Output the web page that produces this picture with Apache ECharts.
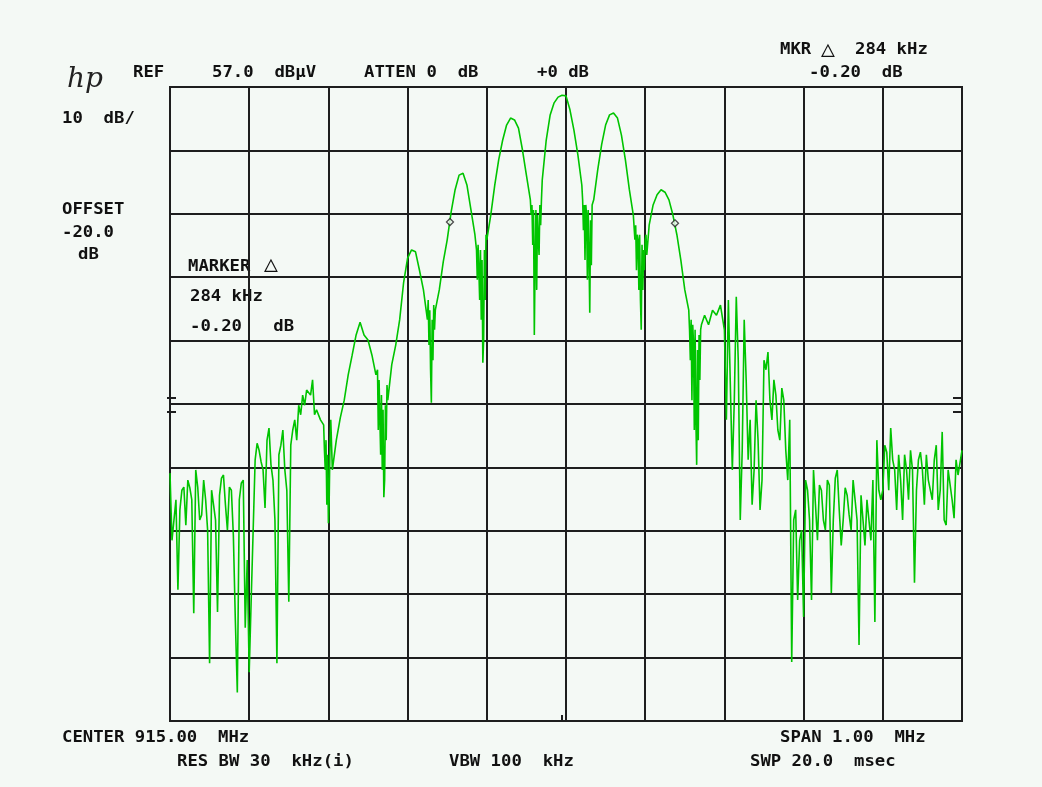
<!DOCTYPE html>
<html>
<head>
<meta charset="utf-8">
<script src="https://cdn.jsdelivr.net/npm/echarts@6/dist/echarts.min.js"></script>
<style>
html,body{margin:0;padding:0;background:#f4f9f5;}
#chart{width:1042px;height:787px;}
</style>
</head>
<body>
<div id="chart"></div>
<script>
// Instrument settings
const REF_LEVEL = 57.0;       // dBµV, top of graticule
const DB_PER_DIV = 10;
const CENTER_MHZ = 915.00;
const SPAN_KHZ = 1000;
const START_KHZ = -500;       // offset from centre
const STEP_KHZ = 5;           // sweep point spacing of the main trace samples

// Trace levels in dBµV, one per 5 kHz from -500 kHz to +500 kHz
const levels = [
  -3.9,-14.5,-22.3,-6.6,-12.1,-6.2,-26.0,-6.1,-10.5,-8.1,
  -33.9,-8.9,-25.8,-4.7,-8.9,-6.1,-13.7,-38.5,-5.5,-28.3,
  -35.3,-12.9,0.8,-2.1,-9.4,3.2,-5.0,-33.9,0.5,-3.4,
  -24.2,2.9,1.3,5.3,6.8,9.5,10.8,6.1,4.5,-0.3,
  -11.8,-3.4,1.3,4.8,7.6,11.6,14.7,17.9,19.9,17.9,
  17.1,14.7,11.6,4.5,-7.7,7.6,13.2,16.3,20.3,26.2,
  30.0,31.3,31.0,28.1,25.0,20.3,7.2,21.8,25.0,29.4,
  32.9,37.3,40.8,43.1,43.4,41.5,37.6,33.7,28.1,13.5,
  32.9,36.8,41.5,45.5,48.6,51.0,52.1,51.8,50.5,47.1,
  43.1,39.2,17.9,32.9,42.3,48.6,52.6,54.5,55.4,55.7,
  55.6,53.4,50.2,46.3,41.5,38.4,21.4,39.2,43.9,47.9,
  51.0,52.6,52.9,52.1,49.4,45.5,40.8,36.8,33.7,18.7,
  32.9,35.2,38.4,40.0,40.8,40.4,39.2,36.8,33.7,29.7,
  25.0,21.8,19.5,-2.6,18.7,21.0,19.5,21.8,21.0,22.6,
  18.7,23.4,-3.4,23.9,-11.3,20.3,-1.8,-8.9,7.6,-9.7,
  13.9,15.2,4.5,8.4,1.3,7.6,-5.0,-33.7,-9.7,-14.5,
  -26.6,-6.6,-23.9,-8.9,-5.8,-11.3,-5.0,-22.8,-4.7,-9.7,
  -11.3,-7.4,-12.9,-8.1,-31.0,-11.3,-8.1,-14.5,-27.4,-6.6,
  -6.6,-0.6,3.2,-3.4,-1.0,-11.3,-3.4,-0.3,-21.2,-1.8,
  -3.4,-1.0,-5.0,-1.8,-9.7,2.6,-12.1,-3.4,-11.0,-4.2,
  -0.3
];

// Extra trace samples inside the noisy nulls between the lobes: [kHz offset, dBµV]
const nullDetail = [
  [-306,3.7],[-304,-3.4],[-303,1.3],[-302,-8.9],[-301,-1.0],[-299,-8.1],[-298,0.5],[-297,4.5],
  [-238,12.4],[-237,2.9],[-236,10.8],[-234,-1.0],[-233,8.4],[-232,-3.4],[-231,6.1],[-229,-5.0],[-228,6.8],[-227,1.3],[-226,10.0],
  [-174,23.4],[-173,16.3],[-172,21.8],[-171,12.4],[-169,20.3],[-168,13.9],[-167,22.6],[-166,18.7],
  [-113,31.3],[-112,26.6],[-111,32.1],[-109,23.4],[-108,31.3],[-107,20.3],[-106,29.7],[-104,17.1],[-103,31.3],[-102,23.4],[-101,33.7],
  [-44,36.8],[-43,38.4],[-42,32.1],[-41,37.6],[-39,29.7],[-38,37.6],[-37,25.0],[-36,36.8],[-34,30.5],[-33,38.4],[-32,35.2],[-31,39.2],
  [21,39.2],[22,34.4],[23,38.4],[24,29.7],[26,36.8],[27,26.6],[28,37.6],[29,30.5],[31,36.0],[32,28.9],[33,38.4],
  [87,32.9],[88,35.2],[89,28.1],[91,32.9],[92,25.0],[93,33.7],[94,23.4],[96,32.1],[97,25.0],[98,31.3],[99,28.1],[101,33.7],[102,30.5],
  [156,18.7],[157,13.9],[158,20.3],[159,7.6],[161,16.7],[162,2.9],[163,18.7],[164,4.5],[166,15.5],[167,1.3],[168,17.9],[169,10.8],[171,19.5]
];

// Extra trace samples in the noise-floor regions: [kHz offset, dBµV]
const floorDetail = [
  [-497.5,-14.5],[-492.5,-8.1],[-487.5,-9.7],[-482.5,-6.1],[-477.5,-5.0],[-472.5,-8.1],[-467.5,-3.4],[-462.5,-11.3],[-457.5,-5.0],[-452.5,-12.9],
  [-447.5,-6.6],[-442.5,-11.3],[-437.5,-7.4],[-432.5,-4.2],[-427.5,-12.9],[-422.5,-6.6],[-417.5,-27.1],[-412.5,-8.1],[-407.5,-5.0],[-402.5,-17.6],
  [-397.5,-23.9],[-392.5,-1.8],[-387.5,-0.3],[-382.5,-3.4],[-377.5,1.3],[-372.5,-2.6],[-367.5,-11.3],[-362.5,-1.0],[-357.5,2.9],[-352.5,-6.6],
  [-347.5,0.5],[-342.5,4.5],[-337.5,6.8],[-332.5,8.4],[-327.5,9.2],[-322.5,8.4],[-317.5,5.3],
  [202.5,4.5],[207.5,23.4],[212.5,7.6],[217.5,13.9],[222.5,-0.3],[227.5,10.8],[232.5,4.5],[237.5,-3.4],[242.5,1.3],[247.5,-5.0],
  [252.5,12.4],[257.5,7.6],[262.5,10.8],[267.5,2.9],[272.5,9.5],[277.5,-0.3],[282.5,4.5],[287.5,-11.3],[292.5,-23.9],
  [297.5,-12.9],[302.5,-5.0],[307.5,-11.3],[312.5,-3.4],[317.5,-14.5],[322.5,-6.6],[327.5,-12.9],[332.5,-5.8],[337.5,-11.3],[342.5,-3.4],
  [347.5,-15.3],[352.5,-6.2],[357.5,-10.5],[362.5,-5.0],[367.5,-11.3],[372.5,-7.4],[377.5,-15.3],
  [382.5,-11.3],[387.5,-5.0],[392.5,1.3],[397.5,-8.1],[402.5,0.5],[407.5,-6.6],[412.5,-1.8],[417.5,-9.7],[422.5,-5.0],[427.5,-1.0],
  [432.5,-8.1],[437.5,-3.4],[442.5,-6.6],[447.5,-0.6],[452.5,-8.9],[457.5,-5.0],[462.5,-8.1],[467.5,0.5],[472.5,-6.6],[477.5,-11.3],
  [482.5,-3.4],[487.5,-8.1],[492.5,-1.8]
];

// Delta-marker pair (kHz offset, dBµV)
const markerFreqs = [-146.5, 137.6];
const markerLevels = [35.7, 35.5];

// Screen annotations: [text, left x, centre y, font size]
const screenTexts = [
  ['REF', 133, 73, 16], ['57.0  dB\u00b5V', 212, 73, 16], ['ATTEN 0  dB', 364, 73, 16], ['+0 dB', 537, 73, 16],
  ['MKR', 780, 50, 16], ['\u25b3', 821, 50, 22], ['284 kHz', 855, 50, 16], ['-0.20  dB', 809, 73, 16],
  ['10  dB/', 62, 119, 16], ['OFFSET', 62, 210, 16], ['-20.0', 62, 233, 16], ['dB', 78, 255, 16],
  ['MARKER', 188, 267, 16], ['\u25b3', 264, 265, 22], ['284 kHz', 190, 297, 16], ['-0.20   dB', 190, 327, 16],
  ['CENTER 915.00  MHz', 62, 738, 16], ['RES BW 30  kHz(i)', 177, 762, 16], ['VBW 100  kHz', 449, 762, 16],
  ['SPAN 1.00  MHz', 780, 738, 16], ['SWP 20.0  msec', 750, 762, 16]
];

const traceData = levels.map((v, i) => [START_KHZ + i * STEP_KHZ, v - REF_LEVEL])
  .concat(nullDetail.map(p => [p[0], p[1] - REF_LEVEL]))
  .concat(floorDetail.map(p => [p[0], p[1] - REF_LEVEL]))
  .sort((a, b) => a[0] - b[0]);
const markerData = markerFreqs.map((f, i) => [f, markerLevels[i] - REF_LEVEL]);

const GRID_COLOR = '#1e1e1e';
const FONT = '"DejaVu Sans Mono", "Liberation Mono", monospace';

const graphics = screenTexts.map(t => ({
  type: 'text', x: t[1], y: t[2], scaleX: t[3] > 16 ? 1.05 : 1.08,
  style: { text: t[0], font: (t[3] > 16 ? 'normal ' : 'bold ') + t[3] + 'px ' + FONT, fill: '#111', textVerticalAlign: 'middle', textAlign: 'left' }
}));
graphics.push({
  type: 'text', x: 67, y: 80,
  style: { text: 'hp', font: 'italic 28px "DejaVu Serif", serif', fill: '#222', textVerticalAlign: 'middle', textAlign: 'left' }
});
// edge reference ticks and bottom centre tick
[[167, 398, 176, 398], [167, 412, 176, 412], [953, 398, 962, 398], [953, 412, 962, 412], [562, 715, 562, 721]].forEach(l => {
  graphics.push({ type: 'line', shape: { x1: l[0], y1: l[1], x2: l[2], y2: l[3] }, style: { stroke: GRID_COLOR, lineWidth: 2 } });
});

const chart = echarts.init(document.getElementById('chart'), null, { renderer: 'canvas' });
chart.setOption({
  backgroundColor: '#f4f9f5',
  animation: false,
  grid: { left: 170, top: 87, width: 792, height: 634, show: true, borderColor: GRID_COLOR, borderWidth: 2, backgroundColor: 'transparent' },
  xAxis: {
    type: 'value', min: START_KHZ, max: START_KHZ + SPAN_KHZ, interval: 100,
    axisLine: { show: false }, axisTick: { show: false }, axisLabel: { show: false },
    splitLine: { show: true, lineStyle: { color: GRID_COLOR, width: 2 } }
  },
  yAxis: {
    type: 'value', min: -10 * DB_PER_DIV, max: 0, interval: DB_PER_DIV,
    axisLine: { show: false }, axisTick: { show: false }, axisLabel: { show: false },
    splitLine: { show: true, lineStyle: { color: GRID_COLOR, width: 2 } }
  },
  series: [
    {
      type: 'line', data: traceData, showSymbol: false, symbol: 'none',
      lineStyle: { color: '#00c400', width: 1.6 }, z: 3
    },
    {
      type: 'scatter', data: markerData, symbol: 'diamond', symbolSize: 7,
      itemStyle: { color: '#f4f9f5', borderColor: '#222', borderWidth: 1.3 }, z: 4
    }
  ],
  graphic: graphics
});
</script>
</body>
</html>
